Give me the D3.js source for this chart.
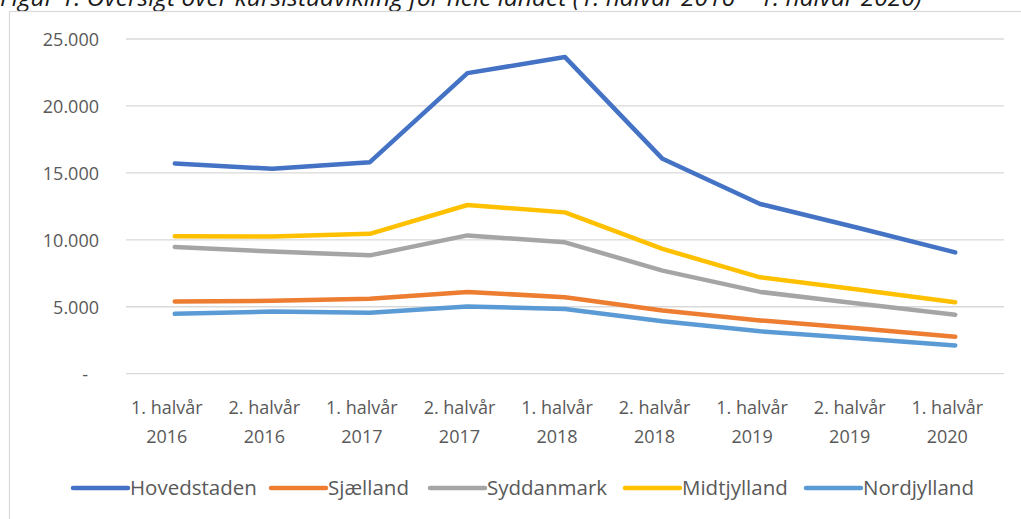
<!DOCTYPE html>
<html>
<head>
<meta charset="utf-8">
<script src="https://cdn.jsdelivr.net/npm/d3@7"></script>
<style>
  body { margin: 0; background: #fff; }
  text { font-family: "Open Sans", "Noto Sans", sans-serif; }
</style>
</head>
<body>
<div id="chart"></div>
<script>
// periods on the x axis (two lines each)
var periods = [
    ["1. halvår", "2016"], ["2. halvår", "2016"], ["1. halvår", "2017"],
    ["2. halvår", "2017"], ["1. halvår", "2018"], ["2. halvår", "2018"],
    ["1. halvår", "2019"], ["2. halvår", "2019"], ["1. halvår", "2020"]
];

var regions = ["Hovedstaden", "Sjælland", "Syddanmark", "Midtjylland", "Nordjylland"];
var colors = ["#4472C4", "#ED7D31", "#A5A5A5", "#FFC000", "#5B9BD5"];

var hovedstaden = [15700, 15300, 15800, 22450, 23650, 16050, 12680, 10900, 9060];
var sjaelland   = [5390, 5440, 5590, 6110, 5710, 4720, 3980, 3400, 2760];
var syddanmark  = [9470, 9120, 8840, 10330, 9810, 7700, 6110, 5240, 4400];
var midtjylland = [10260, 10250, 10450, 12600, 12050, 9320, 7200, 6290, 5340];
var nordjylland = [4470, 4640, 4550, 5020, 4840, 3920, 3170, 2650, 2110];

var yTicks = [0, 5000, 10000, 15000, 20000, 25000];

var series = [hovedstaden, sjaelland, syddanmark, midtjylland, nordjylland];

var width = 1021, height = 519;
var margin = { top: 39, left: 126, right: 17, bottom: 145 };

var svg = d3.select("#chart")
    .append("svg")
    .attr("width", width)
    .attr("height", height);

// title, mostly cut off at the top
svg.append("text")
    .attr("x", 0)
    .attr("y", 6)
    .style("font-style", "italic")
    .style("font-size", "24.5px")
    .attr("fill", "#1a1a1a")
    .text("Figur 1: Oversigt over kursistudvikling for hele landet (1. halvår 2016 – 1. halvår 2020)");

// chart frame
svg.append("rect")
    .attr("x", 9.5)
    .attr("y", 11.5)
    .attr("width", width + 10)
    .attr("height", height + 10)
    .attr("fill", "#fff")
    .attr("stroke", "#d9d9d9")
    .attr("stroke-width", 1.2);

var x = d3.scaleBand()
    .domain(d3.range(periods.length))
    .range([margin.left, width - margin.right]);

var y = d3.scaleLinear()
    .domain([0, 25000])
    .range([height - margin.bottom - 0.3, margin.top]);

var fmt = function(v) { return v === 0 ? "-" : d3.format(",")(v).replace(/,/g, "."); };

// gridlines
svg.append("g")
    .selectAll("line")
    .data(yTicks)
    .enter()
    .append("line")
    .attr("x1", x.range()[0])
    .attr("x2", x.range()[1])
    .attr("y1", function(d) { return y(d); })
    .attr("y2", function(d) { return y(d); })
    .attr("stroke", "#d9d9d9")
    .attr("stroke-width", 1.3);

// y labels
svg.append("g")
    .selectAll("text")
    .data(yTicks)
    .enter()
    .append("text")
    .attr("x", function(d) { return d === 0 ? 88 : 99; })
    .attr("y", function(d) { return y(d) + 7; })
    .attr("text-anchor", "end")
    .attr("fill", "#595959")
    .style("font-size", "18px")
    .text(fmt);

// x labels
var xl = svg.append("g")
    .selectAll("text")
    .data(periods)
    .enter()
    .append("text")
    .attr("text-anchor", "middle")
    .attr("fill", "#595959")
    .style("font-size", "18px")
    .attr("transform", function(d, i) { return "translate(" + (x(i) + x.bandwidth() / 2 - 8) + ",0)"; });
xl.append("tspan").attr("x", 0).attr("y", 414).text(function(d) { return d[0]; });
xl.append("tspan").attr("x", 0).attr("y", 443).text(function(d) { return d[1]; });

// lines
var line = d3.line()
    .x(function(d, i) { return x(i) + x.bandwidth() / 2; })
    .y(function(d) { return y(d); });

svg.append("g")
    .selectAll("path")
    .data(series)
    .enter()
    .append("path")
    .attr("d", line)
    .attr("fill", "none")
    .attr("stroke", function(d, i) { return colors[i]; })
    .attr("stroke-width", 4.5)
    .attr("stroke-linecap", "round")
    .attr("stroke-linejoin", "round");

// legend
var legendX = [73, 271, 430, 625, 806];
var lg = svg.append("g")
    .selectAll("g")
    .data(regions)
    .enter()
    .append("g")
    .attr("transform", function(d, i) { return "translate(" + legendX[i] + ",488)"; });

lg.append("line")
    .attr("x1", 0).attr("x2", 55)
    .attr("stroke", function(d, i) { return colors[i]; })
    .attr("stroke-width", 4.5)
    .attr("stroke-linecap", "round");

lg.append("text")
    .attr("x", 57)
    .attr("y", 7)
    .attr("fill", "#595959")
    .style("font-size", "20.5px")
    .text(function(d) { return d; });
</script>
</body>
</html>
